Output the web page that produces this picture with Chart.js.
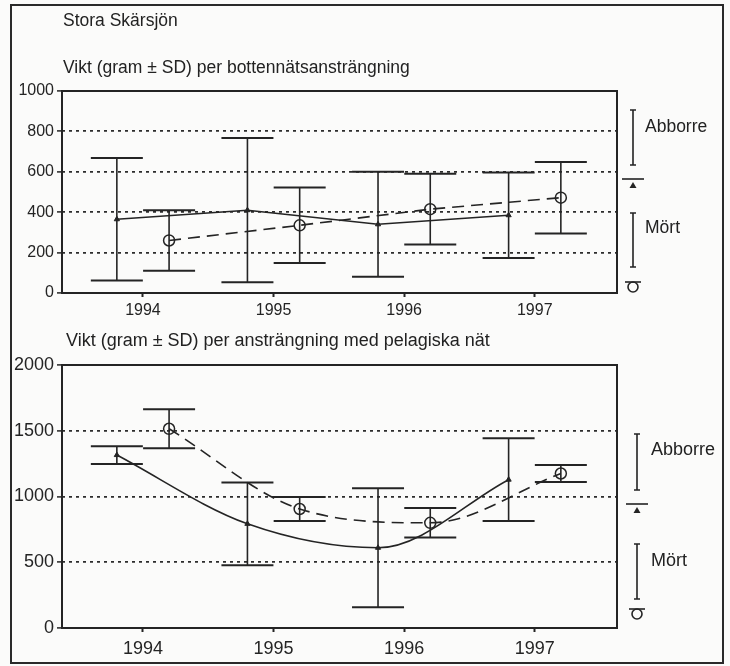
<!DOCTYPE html>
<html>
<head>
<meta charset="utf-8">
<script src="https://cdn.jsdelivr.net/npm/chart.js@4.4.1/dist/chart.umd.min.js"></script>
<style>
  html, body { margin:0; padding:0; }
  body { width:730px; height:666px; background:#fbfbfa; position:relative; overflow:hidden;
         font-family:"Liberation Sans", Arial, sans-serif; color:#222; }
  .frame { position:absolute; left:10px; top:4px; width:714px; height:660px; box-sizing:border-box; border:2px solid #2a2a2a; }
  canvas { position:absolute; left:0; }
  .txt { position:absolute; white-space:nowrap; line-height:1; z-index:2; }
</style>
</head>
<body>
<div class="frame"></div>
<canvas id="c1" width="730" height="320" style="top:0"></canvas>
<canvas id="c2" width="730" height="346" style="top:320px"></canvas>
<div class="txt" style="left:63px;top:12px;font-size:17.5px">Stora Skärsjön</div>
<div class="txt" style="left:63px;top:59px;font-size:17.5px">Vikt (gram ± SD) per bottennätsansträngning</div>
<div class="txt" style="left:645px;top:118px;font-size:17.5px">Abborre</div>
<div class="txt" style="left:645px;top:219px;font-size:17.5px">Mört</div>
<div class="txt" style="left:66px;top:331px;font-size:18px">Vikt (gram ± SD) per ansträngning med pelagiska nät</div>
<div class="txt" style="left:651px;top:440px;font-size:18px">Abborre</div>
<div class="txt" style="left:651px;top:551px;font-size:18px">Mört</div>
<script>
// ---- data ----
const years = [1994, 1995, 1996, 1997];
const xTicks = [1994, 1995, 1996, 1997];

// Bottom nets (bottennät)
const topAbborreMean = [365, 410, 340, 385];
const topAbborreSD   = [303, 357, 260, 212];
const topMortMean    = [260, 335, 415, 472];
const topMortSD      = [150, 187, 175, 177];
const topYTicks      = [0, 200, 400, 600, 800, 1000];

// Pelagic nets
const botAbborreMean = [1315, 792, 610, 1128];
const botAbborreSD   = [68, 315, 452, 315];
const botMortMean    = [1515, 905, 800, 1175];
const botMortSD      = [148, 91, 112, 65];
const botYTicks      = [0, 500, 1000, 1500, 2000];

// species plotted slightly offset from the year
const abborreOffset = -0.2;
const mortOffset = 0.2;

const INK = '#242424';
Chart.defaults.font.family = '"Liberation Sans", Arial, sans-serif';
Chart.defaults.color = INK;

const errorBars = {
  id: 'errorBars',
  beforeDatasetsDraw(chart) {
    const {ctx, scales: {x, y}} = chart;
    ctx.save();
    ctx.strokeStyle = INK;
    chart.data.datasets.forEach(ds => {
      if (!ds.sd) return;
      ds.data.forEach((pt, j) => {
        const px = x.getPixelForValue(pt.x);
        const hi = y.getPixelForValue(pt.y + ds.sd[j]);
        const lo = y.getPixelForValue(pt.y - ds.sd[j]);
        ctx.lineWidth = 1.6;
        ctx.beginPath(); ctx.moveTo(px, hi); ctx.lineTo(px, lo); ctx.stroke();
        ctx.lineWidth = 2;
        ctx.beginPath();
        ctx.moveTo(px - 26, hi); ctx.lineTo(px + 26, hi);
        ctx.moveTo(px - 26, lo); ctx.lineTo(px + 26, lo);
        ctx.stroke();
      });
    });
    // plot frame
    const a = chart.chartArea;
    ctx.lineWidth = 2;
    ctx.strokeRect(a.left, a.top, a.right - a.left, a.bottom - a.top);
    ctx.restore();
  }
};

const legendMarks = {
  id: 'legendMarks',
  afterDraw(chart, args, o) {
    const ctx = chart.ctx;
    ctx.save();
    ctx.strokeStyle = INK; ctx.fillStyle = INK; ctx.lineWidth = 1.6;
    const ibar = (x, y1, y2) => {
      ctx.beginPath();
      ctx.moveTo(x, y1); ctx.lineTo(x, y2);
      ctx.moveTo(x - 3, y1); ctx.lineTo(x + 3, y1);
      ctx.moveTo(x - 3, y2); ctx.lineTo(x + 3, y2);
      ctx.stroke();
    };
    ibar(o.x, o.a1, o.a2);
    ibar(o.x, o.m1, o.m2);
    // triangle sample
    ctx.beginPath(); ctx.moveTo(o.x - 11, o.tri); ctx.lineTo(o.x + 11, o.tri); ctx.stroke();
    ctx.beginPath();
    ctx.moveTo(o.x, o.tri + 3); ctx.lineTo(o.x + 3.5, o.tri + 9); ctx.lineTo(o.x - 3.5, o.tri + 9); ctx.closePath(); ctx.fill();
    // circle sample
    ctx.beginPath(); ctx.moveTo(o.x - 8, o.circ - 5); ctx.lineTo(o.x + 8, o.circ - 5); ctx.stroke();
    ctx.beginPath(); ctx.arc(o.x, o.circ, 5, 0, Math.PI * 2); ctx.stroke();
    ctx.restore();
  }
};

function makeChart(id, cfg) {
  const pts = (means, off) => means.map((v, i) => ({x: years[i] + off, y: v}));
  const curve = cfg.smooth ? { cubicInterpolationMode: 'monotone' } : { tension: 0 };
  return new Chart(document.getElementById(id), {
    type: 'line',
    data: {
      datasets: [
        Object.assign({ label: 'Abborre', data: pts(cfg.aMean, abborreOffset), sd: cfg.aSD,
          borderColor: INK, borderWidth: 1.6,
          pointStyle: 'triangle', pointRadius: 3, pointBackgroundColor: INK, pointBorderColor: INK, pointBorderWidth: 1 }, curve),
        Object.assign({ label: 'Mört', data: pts(cfg.mMean, mortOffset), sd: cfg.mSD,
          borderColor: INK, borderWidth: 1.6, borderDash: [12, 7],
          pointStyle: 'circle', pointRadius: 5.5, pointBackgroundColor: 'rgba(0,0,0,0)', pointBorderColor: INK, pointBorderWidth: 1.5 }, curve)
      ]
    },
    options: {
      responsive: false, animation: false, devicePixelRatio: 1,
      layout: { padding: { left: 0, right: 113, top: cfg.top, bottom: 0 } },
      plugins: { legend: { display: false }, tooltip: { enabled: false }, legendMarks: cfg.marks },
      scales: {
        x: {
          type: 'linear', min: 1993.38, max: 1997.63,
          afterBuildTicks: s => { s.ticks = xTicks.map(v => ({value: v})); },
          afterFit: s => { s.height = cfg.xh; },
          grid: { drawOnChartArea: false, drawTicks: true, tickLength: 4, tickColor: INK, tickWidth: 2 },
          border: { display: false },
          ticks: { padding: cfg.xpad, font: { size: cfg.fs }, color: INK, callback: v => String(v), maxRotation: 0 }
        },
        y: {
          min: 0, max: cfg.yTicks[cfg.yTicks.length - 1],
          afterBuildTicks: s => { s.ticks = cfg.yTicks.map(v => ({value: v})); },
          afterFit: s => { s.width = 62; },
          grid: {
            color: c => (c.tick && (c.tick.value === 0 || c.tick.value === cfg.yTicks[cfg.yTicks.length - 1])) ? 'rgba(0,0,0,0)' : '#2c2c2c',
            lineWidth: 1.8, tickLength: 5, tickColor: INK, tickWidth: 1.5
          },
          border: { display: false, dash: [3, 4] },
          ticks: { padding: 3, font: { size: cfg.fs }, color: INK, callback: v => String(v) }
        }
      }
    },
    plugins: [errorBars, legendMarks]
  });
}

makeChart('c1', {
  aMean: topAbborreMean, aSD: topAbborreSD, mMean: topMortMean, mSD: topMortSD,
  yTicks: topYTicks, top: 91, xh: 27, fs: 16, smooth: false, xpad: 4,
  marks: { x: 633, a1: 110, a2: 165, tri: 179, m1: 213, m2: 267, circ: 287 }
});
makeChart('c2', {
  aMean: botAbborreMean, aSD: botAbborreSD, mMean: botMortMean, mSD: botMortSD,
  yTicks: botYTicks, top: 45, xh: 38, fs: 18, smooth: true, xpad: 6,
  marks: { x: 637, a1: 114, a2: 170, tri: 184, m1: 224, m2: 279, circ: 294 }
});
</script>
</body>
</html>
